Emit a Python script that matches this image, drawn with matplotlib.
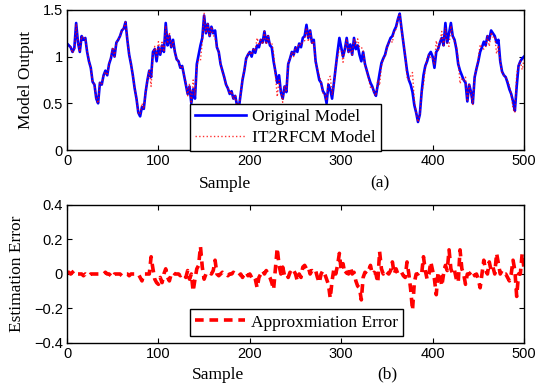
import numpy as np
import matplotlib.pyplot as plt

# samples are read every 2 steps from the picture
sample = np.arange(0, 501, 2)

original = [
    1.14, 1.12, 1.10, 1.05, 1.09, 1.36, 1.15, 1.05, 1.22, 1.18,
    1.20, 1.05, 0.95, 0.88, 0.73, 0.70, 0.55, 0.50, 0.72, 0.70,
    0.80, 0.85, 0.80, 0.92, 0.98, 1.08, 1.00, 1.15, 1.18, 1.22,
    1.28, 1.30, 1.37, 1.18, 1.02, 0.92, 0.80, 0.66, 0.55, 0.40,
    0.36, 0.46, 0.44, 0.62, 0.75, 0.85, 0.78, 1.05, 1.08, 0.95,
    1.10, 1.02, 1.12, 1.05, 1.36, 1.12, 1.22, 1.10, 1.18, 1.05,
    0.97, 0.95, 0.88, 0.90, 0.80, 0.70, 0.60, 0.68, 0.50, 0.65,
    0.55, 0.92, 1.02, 1.12, 1.20, 1.44, 1.25, 1.35, 1.22, 1.32,
    1.25, 1.28, 1.10, 1.05, 0.92, 0.85, 0.78, 0.70, 0.66, 0.60,
    0.63, 0.55, 0.58, 0.48, 0.45, 0.60, 0.75, 0.85, 0.98, 1.02,
    1.05, 1.00, 1.08, 1.04, 1.12, 1.10, 1.18, 1.15, 1.27, 1.15,
    1.22, 1.12, 1.10, 0.95, 0.84, 0.72, 0.80, 0.62, 0.55, 0.68,
    0.62, 0.92, 0.98, 1.05, 1.02, 1.10, 1.05, 1.14, 1.10, 1.20,
    1.22, 1.34, 1.20, 1.28, 1.15, 1.18, 0.95, 0.85, 0.75, 0.72,
    0.63, 0.60, 0.50, 0.70, 0.65, 0.55, 0.72, 0.90, 1.05, 1.20,
    1.10, 1.00, 1.08, 1.20, 1.05, 1.13, 1.02, 1.20, 1.08, 1.12,
    1.02, 0.95, 1.05, 0.92, 0.85, 0.78, 0.72, 0.68, 0.62, 0.58,
    0.70, 0.82, 0.93, 0.98, 1.02, 1.10, 1.15, 1.20, 1.22, 1.28,
    1.32, 1.40, 1.46, 1.30, 1.15, 1.00, 0.85, 0.75, 0.70, 0.62,
    0.48, 0.40, 0.30, 0.38, 0.62, 0.80, 0.90, 0.95, 1.02, 1.05,
    1.00, 0.88, 1.05, 1.08, 1.15, 1.20, 1.12, 1.36, 1.15, 1.25,
    1.36, 1.22, 1.18, 1.08, 0.92, 0.85, 0.80, 0.75, 0.72, 0.52,
    0.70, 0.62, 0.50, 0.78, 0.87, 0.95, 1.05, 1.10, 1.16, 1.12,
    1.22, 1.18, 1.28, 1.25, 1.22, 1.15, 1.18, 0.95, 0.84, 0.80,
    0.78, 0.72, 0.65, 0.60, 0.52, 0.42, 0.68, 0.90, 0.95, 0.98,
    1.00,
]

error = [
    0.01, 0.01, 0.00, 0.01, 0.02, 0.01, 0.00, 0.00, 0.00, -0.01,
    0.00, -0.01, -0.01, 0.00, 0.00, 0.00, 0.00, 0.00, 0.00, 0.00,
    0.00, 0.01, 0.00, 0.00, -0.01, -0.02, 0.00, 0.00, 0.00, 0.00,
    -0.01, 0.00, 0.00, 0.00, -0.01, 0.00, 0.00, 0.00, 0.00, 0.00,
    -0.02, -0.04, 0.00, 0.00, 0.00, 0.00, 0.10, 0.03, -0.03, -0.05,
    -0.06, -0.02, -0.05, 0.00, 0.03, -0.02, -0.04, 0.00, 0.01, 0.00,
    0.00, 0.00, -0.01, 0.00, 0.00, -0.02, 0.02, -0.03, 0.00, -0.10,
    -0.03, 0.03, 0.05, 0.16, 0.04, -0.03, 0.00, 0.00, 0.01, 0.00,
    0.02, 0.08, 0.00, -0.01, 0.00, 0.01, 0.00, 0.00, -0.01, 0.00,
    0.00, 0.01, 0.00, 0.00, -0.01, 0.00, -0.02, 0.00, 0.01, -0.01,
    0.00, -0.02, -0.01, -0.03, -0.08, -0.02, 0.00, 0.02, 0.00, 0.02,
    0.00, -0.02, -0.05, -0.09, 0.03, 0.15, 0.05, 0.00, 0.04, -0.01,
    0.00, -0.02, 0.01, 0.00, 0.02, 0.00, -0.04, 0.00, -0.02, 0.04,
    0.05, 0.03, 0.04, 0.00, 0.02, 0.01, 0.02, -0.02, -0.05, 0.00,
    0.02, 0.00, -0.03, -0.06, -0.14, -0.04, 0.03, 0.00, 0.05, 0.12,
    0.02, 0.06, 0.00, 0.01, 0.00, 0.04, 0.00, 0.01, -0.04, -0.07,
    -0.08, -0.15, -0.02, 0.01, 0.00, 0.02, 0.05, 0.00, 0.01, 0.00,
    -0.05, 0.13, 0.03, 0.00, 0.02, 0.01, 0.00, 0.02, 0.07, 0.00,
    0.03, 0.00, 0.00, 0.01, -0.01, -0.02, 0.07, 0.00, -0.09, -0.21,
    -0.05, 0.00, 0.00, 0.01, 0.00, 0.10, 0.02, -0.03, 0.00, 0.07,
    0.02, -0.03, -0.12, 0.01, 0.00, -0.07, 0.00, 0.05, 0.02, 0.14,
    0.03, 0.00, 0.02, -0.03, -0.05, 0.14, 0.03, 0.00, -0.06, 0.00,
    0.00, 0.01, 0.02, -0.01, 0.00, -0.03, -0.08, 0.00, 0.08, 0.02,
    0.00, 0.07, 0.02, 0.04, 0.00, 0.12, 0.06, 0.00, 0.02, 0.00,
    0.00, -0.02, -0.04, 0.00, 0.08, 0.02, -0.13, 0.00, 0.00, 0.12,
    0.03,
]

original = np.array(original)
error = np.array(error)
model = original - error

serif = "Liberation Serif"
sans = "Liberation Sans"

fig = plt.figure(figsize=(5.37, 3.87), dpi=100)
ax1 = fig.add_axes([0.1248, 0.6124, 0.851, 0.362])
ax2 = fig.add_axes([0.1248, 0.1137, 0.851, 0.3566])

ax1.plot(sample, original, color="blue", lw=1.9, label="Original Model")
ax1.plot(sample, model, color="red", lw=1.0, ls=":", alpha=0.8, label="IT2RFCM Model")
ax1.set_xlim(0, 500)
ax1.set_ylim(0, 1.5)
ax1.set_yticks([0, 0.5, 1, 1.5])
ax1.set_yticklabels(["0", "0.5", "1", "1.5"])
ax1.set_ylabel("Model Output", family=serif, fontsize=12.5)
ax1.text(0.345, -0.24, "Sample", transform=ax1.transAxes, family=serif,
         fontsize=12.5, ha="center", va="center")
ax1.text(0.685, -0.24, "(a)", transform=ax1.transAxes, family=serif,
         fontsize=12.5, ha="center", va="center")
leg1 = ax1.legend(loc="center", bbox_to_anchor=(0.478, 0.16), prop={"family": serif, "size": 12.5},
                  fancybox=False, edgecolor="black", framealpha=1, handlelength=2.9,
                  handletextpad=0.35, borderpad=0.3, labelspacing=0.25)
leg1.get_frame().set_linewidth(1.0)

ax2.plot(sample, error, color="red", lw=2.6, ls=(0, (2.4, 1.6)), label="Approxmiation Error")
ax2.set_xlim(0, 500)
ax2.set_ylim(-0.4, 0.4)
ax2.set_yticks([-0.4, -0.2, 0, 0.2, 0.4])
ax2.set_yticklabels(["\u22120.4", "\u22120.2", "0", "0.2", "0.4"])
ax2.set_ylabel("Estimation Error", family=serif, fontsize=12.5)
ax2.text(0.33, -0.23, "Sample", transform=ax2.transAxes, family=serif,
         fontsize=12.5, ha="center", va="center")
ax2.text(0.70, -0.23, "(b)", transform=ax2.transAxes, family=serif,
         fontsize=12.5, ha="center", va="center")
leg2 = ax2.legend(loc="center", bbox_to_anchor=(0.502, 0.149), prop={"family": serif, "size": 12.5},
                  fancybox=False, edgecolor="black", framealpha=1, handlelength=2.9,
                  handletextpad=0.35, borderpad=0.3)
leg2.get_frame().set_linewidth(1.0)

for ax in (ax1, ax2):
    ax.set_xticks([0, 100, 200, 300, 400, 500])
    ax.tick_params(direction="in", top=True, right=True, length=3.5, width=0.8,
                   labelsize=10.5, pad=3)
    for lab in ax.get_xticklabels() + ax.get_yticklabels():
        lab.set_family(sans)
    for sp in ax.spines.values():
        sp.set_linewidth(1.0)

ax1.yaxis.set_label_coords(-0.072, 0.5)
ax2.yaxis.set_label_coords(-0.093, 0.5)

fig.savefig("out.png", dpi=100)
